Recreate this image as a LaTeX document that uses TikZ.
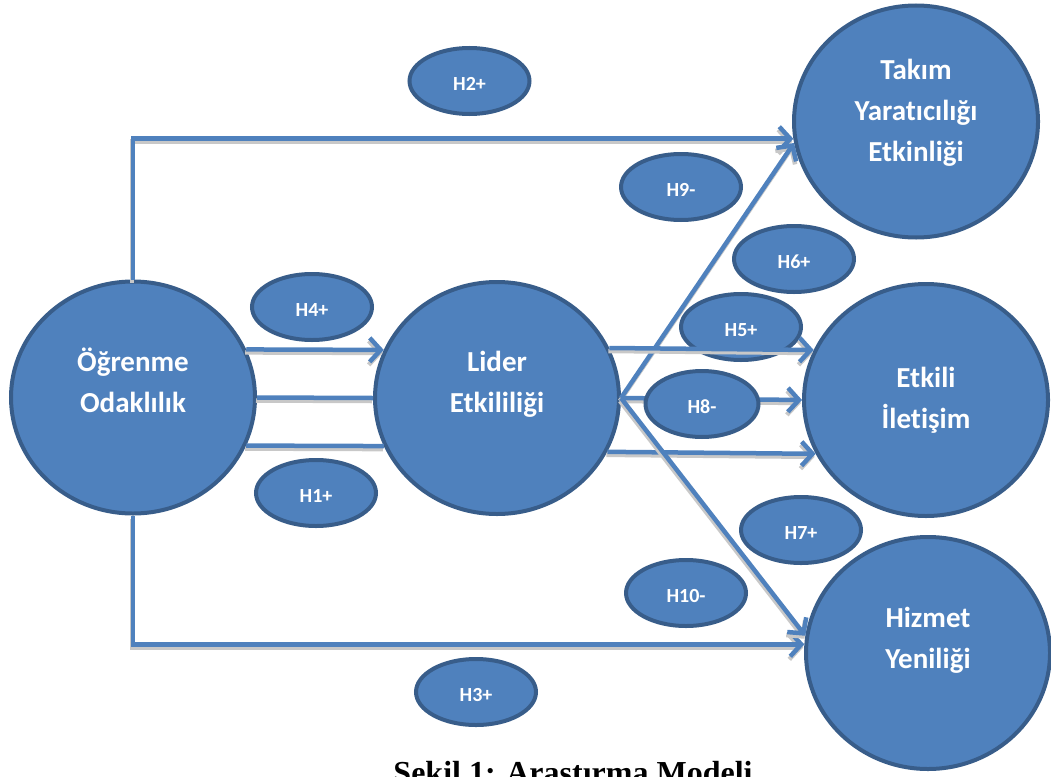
\documentclass[tikz,border=0pt]{standalone}
\usepackage{fontspec}
\setmainfont{Carlito}[Ligatures=NoCommon]
\newfontfamily\capfont{Liberation Serif}
\usetikzlibrary{shapes.geometric,arrows.meta}
\definecolor{fillblue}{HTML}{4F81BD}
\definecolor{edgeblue}{HTML}{385D8A}
\definecolor{shadowgray}{HTML}{C8C8C8}
\begin{document}
\begin{tikzpicture}[x=1pt,y=-1pt,
  big/.style={ellipse, draw=edgeblue, fill=fillblue, line width=4pt,
    minimum width=244pt, minimum height=232pt, inner sep=0pt, text=white,
    align=center, font=\bfseries\fontsize{29}{41}\selectfont},
  hyp/.style={ellipse, draw=edgeblue, fill=fillblue, line width=4pt,
    minimum width=120pt, minimum height=66pt, inner sep=0pt, text=white,
    text height=19pt, text depth=0pt,
    font=\bfseries\fontsize{20}{24}\selectfont},
  link/.style={draw=fillblue, line width=4.5pt,
    preaction={draw=shadowgray, line width=4.5pt, transform canvas={shift={(-1pt,-3pt)}}}},
  arr/.style={link, -{Straight Barb[length=11pt,width=24pt]}}
]
\clip (0,0) rectangle (1051,776);
% main constructs
\node[big, text depth=35pt] (lo) at (133,397.5) {Öğrenme\\Odaklılık};
\node[big, text depth=33pt] (le) at (497,398) {Lider\\Etkililiği};
\node[big, text depth=23pt] (tk) at (916,121.5) {Takım\\Yaratıcılığı\\Etkinliği};
\node[big] (ei) at (926,400) {Etkili\\İletişim};
\node[big, text depth=30pt] (hy) at (928,653) {Hizmet\\Yeniliği};
\node[hyp] (h5) at (741,327) {H5+};
% connectors
\draw[arr] (lo.north) |- (tk.188);
\draw[arr] (lo.south) |- (hy.176);
\draw[arr] (lo.23) -- (le.157);
\draw[link] (lo.east) -- (le.west);
\draw[link] (lo.-23) -- (le.203);
\draw[arr] (le.east) -- (tk.190);
\draw[arr] (le.24) -- (ei.156);
\draw[arr] (le.east) -- (ei.west);
\draw[arr] (le.-26) -- (ei.206);
\draw[arr] (le.east) -- (hy.172);
% hypothesis labels
\node[hyp] (h2) at (469.5,81) {H2+};
\node[hyp] (h9) at (681,187) {H9-};
\node[hyp] (h6) at (794,259) {H6+};
\node[hyp] (h4) at (312,307) {H4+};
\node[hyp, minimum width=113pt] (h8) at (702,404) {H8-};
\node[hyp] (h1) at (316,493) {H1+};
\node[hyp] (h7) at (801,530) {H7+};
\node[hyp] (h10) at (686,593) {H10-};
\node[hyp] (h3) at (476,692) {H3+};
% caption
\node[font=\capfont\bfseries\fontsize{32}{38}\selectfont, anchor=base] (cap) at (573,783) {Şekil 1: Araştırma Modeli};
\end{tikzpicture}
\end{document}
